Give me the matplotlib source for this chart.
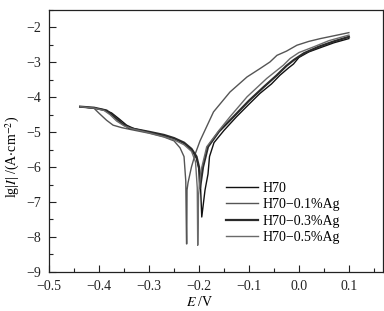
import matplotlib
matplotlib.use("Agg")
import matplotlib.pyplot as plt
from matplotlib.ticker import MultipleLocator, FuncFormatter

plt.rcParams['font.family'] = ['Liberation Serif', 'DejaVu Serif']
plt.rcParams['mathtext.fontset'] = 'stix'

# H70
h70_E = [-0.438, -0.41, -0.39, -0.375, -0.36, -0.345, -0.33, -0.30, -0.27, -0.25, -0.23, -0.215, -0.205, -0.198, -0.1945,
         -0.188, -0.182, -0.179, -0.17, -0.15, -0.125, -0.10, -0.078, -0.055, -0.038, -0.02, -0.011, 0.0, 0.02, 0.043, 0.07, 0.1]
h70_L = [-4.27, -4.31, -4.36, -4.45, -4.62, -4.80, -4.90, -5.00, -5.10, -5.18, -5.32, -5.50, -5.75, -6.2, -7.43,
         -6.66, -6.2, -5.7, -5.3, -4.95, -4.56, -4.2, -3.89, -3.62, -3.37, -3.15, -3.05, -2.86, -2.70, -2.58, -2.44, -2.32]

# H70-0.1%Ag
ag1_E = [-0.438, -0.41, -0.40, -0.385, -0.372, -0.355, -0.335, -0.30, -0.27, -0.25, -0.238, -0.23, -0.2265, -0.2250,
         -0.2245, -0.224, -0.222, -0.215, -0.207, -0.198, -0.185, -0.171, -0.138, -0.104, -0.078, -0.058, -0.044, -0.025, -0.004, 0.02, 0.043, 0.07, 0.1]
ag1_L = [-4.27, -4.32, -4.46, -4.66, -4.80, -4.87, -4.93, -5.03, -5.14, -5.25, -5.45, -5.7, -6.4, -8.2,
         -8.2, -6.66, -6.45, -5.99, -5.6, -5.25, -4.85, -4.42, -3.85, -3.42, -3.18, -2.99, -2.80, -2.68, -2.51, -2.40, -2.32, -2.24, -2.15]

# H70-0.3%Ag
ag3_E = [-0.438, -0.41, -0.385, -0.37, -0.355, -0.34, -0.30, -0.27, -0.25, -0.23, -0.215, -0.205, -0.2, -0.198,
         -0.192, -0.182, -0.16, -0.131, -0.10, -0.07, -0.045, -0.025, -0.01, 0.01, 0.04, 0.07, 0.1]
ag3_L = [-4.27, -4.30, -4.38, -4.55, -4.74, -4.88, -4.99, -5.08, -5.17, -5.30, -5.48, -5.7, -6.0, -6.6,
         -6.0, -5.42, -4.98, -4.56, -4.1, -3.70, -3.38, -3.10, -2.93, -2.74, -2.55, -2.40, -2.27]

# H70-0.5%Ag
ag5_E = [-0.438, -0.41, -0.39, -0.378, -0.365, -0.35, -0.335, -0.30, -0.27, -0.25, -0.23, -0.215, -0.207, -0.2035, -0.2026,
         -0.201, -0.196, -0.1846, -0.16, -0.138, -0.104, -0.0643, -0.031, -0.0177, 0.0, 0.029, 0.06, 0.1]
ag5_L = [-4.27, -4.31, -4.38, -4.50, -4.68, -4.82, -4.90, -5.02, -5.13, -5.22, -5.36, -5.55, -5.85, -6.6, -8.24,
         -6.8, -6.1, -5.42, -4.95, -4.56, -3.99, -3.46, -3.08, -2.89, -2.72, -2.56, -2.38, -2.22]

labels = ['H70', 'H70\u22120.1%Ag', 'H70\u22120.3%Ag', 'H70\u22120.5%Ag']

fig = plt.figure(figsize=(3.84, 3.11), dpi=100)
ax = fig.add_axes([0.128, 0.126, 0.869, 0.842])

ax.plot(h70_E, h70_L, color='#111111', lw=1.0, label=labels[0])
ax.plot(ag1_E, ag1_L, color='#555555', lw=1.0, label=labels[1])
ax.plot(ag3_E, ag3_L, color='#2a2a2a', lw=1.6, label=labels[2])
ax.plot(ag5_E, ag5_L, color='#6a6a6a', lw=1.0, label=labels[3])

ax.set_xlim(-0.5, 0.168)
ax.set_ylim(-9, -1.5)
ax.xaxis.set_major_locator(MultipleLocator(0.1))
ax.xaxis.set_minor_locator(MultipleLocator(0.05))
ax.yaxis.set_major_locator(MultipleLocator(1))
ax.yaxis.set_minor_locator(MultipleLocator(0.5))
ax.xaxis.set_major_formatter(FuncFormatter(lambda v, p: f"{v:.1f}".replace('-', '\u2212') if abs(v) > 1e-9 else "0.0"))
ax.yaxis.set_major_formatter(FuncFormatter(lambda v, p: f"{v:.0f}".replace('-', '\u2212')))
ax.tick_params(which='both', direction='in', top=False, right=False, labelsize=10, colors='#222222')
ax.tick_params(which='major', length=5, width=0.8)
ax.tick_params(which='minor', length=3, width=0.8)
ax.tick_params(axis='x', which='major', pad=6)
ax.tick_params(axis='y', which='major', pad=6)
for s in ax.spines.values():
    s.set_linewidth(0.9)
    s.set_color('#222222')

ax.set_xlabel('$E$ /V', fontsize=10)
ax.set_ylabel('lg|$I$| /(A$\\cdot$cm$^{-2}$)', fontsize=10)
ax.xaxis.set_label_coords(0.452, -0.088)
ax.yaxis.set_label_coords(-0.082, 0.44)

ax.legend(loc='upper left', bbox_to_anchor=(0.51, 0.37), frameon=False, fontsize=10,
          handlelength=2.3, handletextpad=0.3, labelspacing=0.25, borderpad=0)

fig.savefig('out.png', dpi=100)
